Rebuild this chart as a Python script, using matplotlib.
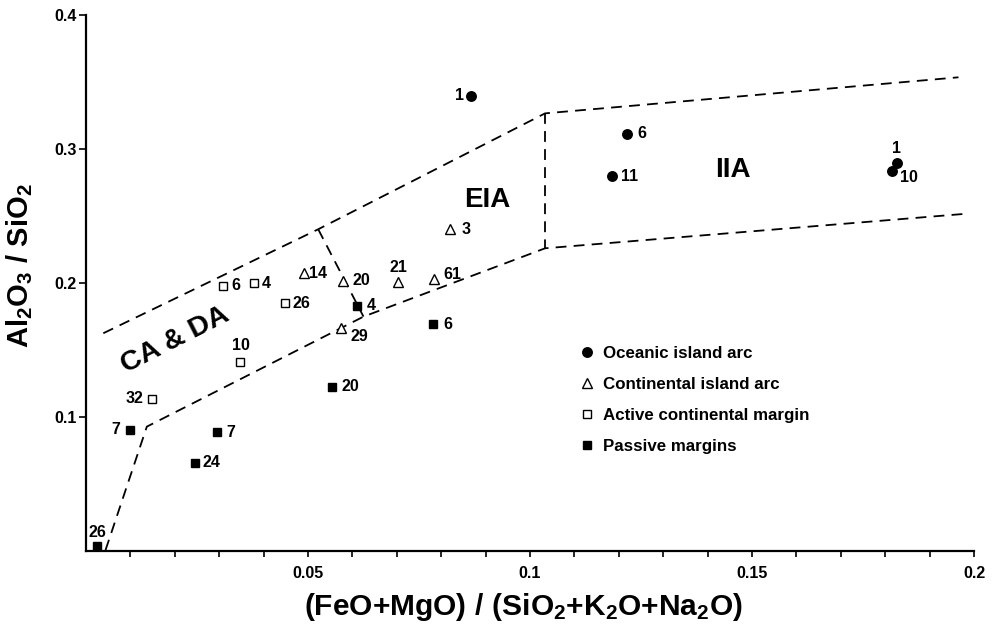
import matplotlib
matplotlib.use("Agg")
import matplotlib.pyplot as plt
from matplotlib.ticker import FixedLocator, FixedFormatter

plt.rcParams['font.family'] = ['Liberation Sans', 'DejaVu Sans']
plt.rcParams['font.weight'] = 'bold'
plt.rcParams['mathtext.fontset'] = 'custom'
plt.rcParams['mathtext.rm'] = 'Liberation Sans:bold'
plt.rcParams['mathtext.bf'] = 'Liberation Sans:bold'
plt.rcParams['mathtext.it'] = 'Liberation Sans:bold'
plt.rcParams['mathtext.sf'] = 'Liberation Sans:bold'

# ---------------- data ----------------
oceanic_x = [0.0866, 0.1219, 0.1185, 0.1826, 0.1816]
oceanic_y = [0.3396, 0.3112, 0.2796, 0.2893, 0.2836]
oceanic_lab = ["1", "6", "11", "1", "10"]

cont_x = [0.0820, 0.0491, 0.0578, 0.0703, 0.0784, 0.0574]
cont_y = [0.2401, 0.2072, 0.2017, 0.2010, 0.2030, 0.1666]
cont_lab = ["3", "14", "20", "21", "61", "29"]

active_x = [0.0309, 0.0378, 0.0448, 0.0347, 0.0149]
active_y = [0.1978, 0.1998, 0.1848, 0.1413, 0.1137]
active_lab = ["6", "4", "26", "10", "32"]

passive_x = [0.0099, 0.0296, 0.0245, 0.0024, 0.0610, 0.0782, 0.0553]
passive_y = [0.0903, 0.0886, 0.0659, 0.0037, 0.1831, 0.1692, 0.1226]
passive_lab = ["7", "7", "24", "26", "4", "6", "20"]

# field boundaries (x list, y list)
upper_x = [0.0039, 0.0523, 0.1034, 0.1965]
upper_y = [0.1625, 0.2401, 0.3266, 0.3535]
lower_x = [0.0044, 0.0137, 0.0625, 0.1034, 0.1983]
lower_y = [0.0007, 0.0928, 0.1749, 0.2259, 0.2517]
divider1_x = [0.0523, 0.0625]
divider1_y = [0.2401, 0.1749]
divider2_x = [0.1034, 0.1034]
divider2_y = [0.3266, 0.2259]

legend_labels = ["Oceanic island arc", "Continental island arc",
                 "Active continental margin", "Passive margins"]
xticks_major = [0.05, 0.1, 0.15, 0.2]
xtick_labels = ["0.05", "0.1", "0.15", "0.2"]
xticks_minor = [i / 100 for i in range(1, 20) if i % 5 != 0]
yticks_major = [0.1, 0.2, 0.3, 0.4]
ytick_labels = ["0.1", "0.2", "0.3", "0.4"]

# label offsets in pixels (dx, dy, ha)
oceanic_off = [(-7, 0, 'right'), (10, 0, 'left'), (9, 0, 'left'), (0, 15, 'center'), (8, -7, 'left')]
cont_off = [(11, 0, 'left'), (5, 0, 'left'), (10, 0, 'left'), (0, 14, 'center'), (9, 4, 'left'), (10, -9, 'left')]
active_off = [(8, 0, 'left'), (8, 0, 'left'), (8, 0, 'left'), (1, 16, 'center'), (-9, 0, 'right')]
passive_off = [(-10, 0, 'right'), (9, 0, 'left'), (8, 0, 'left'), (1, 14, 'center'), (10, 0, 'left'), (10, 0, 'left'), (10, 0, 'left')]

# ---------------- figure ----------------
W, H = 992, 626
fig = plt.figure(figsize=(W / 100, H / 100), dpi=100)
ax = fig.add_axes([86 / W, (H - 551) / H, (974 - 86) / W, (551 - 15) / H])
ax.set_xlim(0, 0.2)
ax.set_ylim(0, 0.4)

dash = (0, (6, 4))
for xs, ys in [(upper_x, upper_y), (lower_x, lower_y),
               (divider1_x, divider1_y), (divider2_x, divider2_y)]:
    ax.plot(xs, ys, color='black', lw=1.3, linestyle=dash, zorder=1)

px = 0.72
h1, = ax.plot(oceanic_x, oceanic_y, 'o', color='black', ms=9.5 * px, linestyle='none', zorder=3)
h2, = ax.plot(cont_x, cont_y, '^', mfc='white', mec='black', mew=1.0, ms=10 * px, linestyle='none', zorder=3)
h3, = ax.plot(active_x, active_y, 's', mfc='white', mec='black', mew=1.0, ms=8.5 * px, linestyle='none', zorder=3)
h4, = ax.plot(passive_x, passive_y, 's', color='black', ms=8.5 * px, linestyle='none', zorder=3)

for xs, ys, labs, offs in [(oceanic_x, oceanic_y, oceanic_lab, oceanic_off),
                           (cont_x, cont_y, cont_lab, cont_off),
                           (active_x, active_y, active_lab, active_off),
                           (passive_x, passive_y, passive_lab, passive_off)]:
    for x, y, t, (dx, dy, ha) in zip(xs, ys, labs, offs):
        ax.annotate(t, (x, y), xytext=(dx * px, dy * px), textcoords='offset points',
                    ha=ha, va='center', fontsize=11.5, fontweight='bold')

# field names
ax.text(0.0200, 0.1575, "CA & DA", rotation=27, ha='center', va='center',
        fontsize=20.5, fontweight='bold', rotation_mode='anchor')
ax.text(0.0903, 0.2620, "EIA", ha='center', va='center', fontsize=20, fontweight='bold')
ax.text(0.1457, 0.2845, "IIA", ha='center', va='center', fontsize=20, fontweight='bold')

# legend
leg = ax.legend([h1, h2, h3, h4], legend_labels, loc='upper left',
                bbox_to_anchor=(0.556, 0.383), frameon=False, handlelength=0.8,
                handletextpad=0.55, labelspacing=0.95, borderpad=0, borderaxespad=0,
                prop={'weight': 'bold', 'size': 12.2})

# axes styling
for s in ['top', 'right']:
    ax.spines[s].set_visible(False)
for s in ['left', 'bottom']:
    ax.spines[s].set_linewidth(1.6)

ax.xaxis.set_major_locator(FixedLocator(xticks_major))
ax.xaxis.set_major_formatter(FixedFormatter(xtick_labels))
ax.xaxis.set_minor_locator(FixedLocator(xticks_minor))
ax.yaxis.set_major_locator(FixedLocator(yticks_major))
ax.yaxis.set_major_formatter(FixedFormatter(ytick_labels))
ax.tick_params(axis='x', which='both', direction='out', length=4.5, width=1.2, pad=6.5, labelsize=11.5)
ax.tick_params(axis='y', which='both', direction='out', length=5, width=1.2, pad=2, labelsize=11.5)
for lab in ax.get_xticklabels() + ax.get_yticklabels():
    lab.set_fontweight('bold')

ax.set_xlabel(r'$\mathrm{(FeO{+}MgO)\ /\ (SiO_2{+}K_2O{+}Na_2O)}$', fontsize=21.5)
ax.set_ylabel(r'$\mathrm{Al_2O_3\ /\ SiO_2}$', fontsize=21)
ax.xaxis.set_label_coords((523 - 86) / 888, -(591 - 551) / 536)
ax.yaxis.set_label_coords(-(86 - 35) / 888, (551 - 266) / 536)

fig.savefig("out.png", dpi=100)
